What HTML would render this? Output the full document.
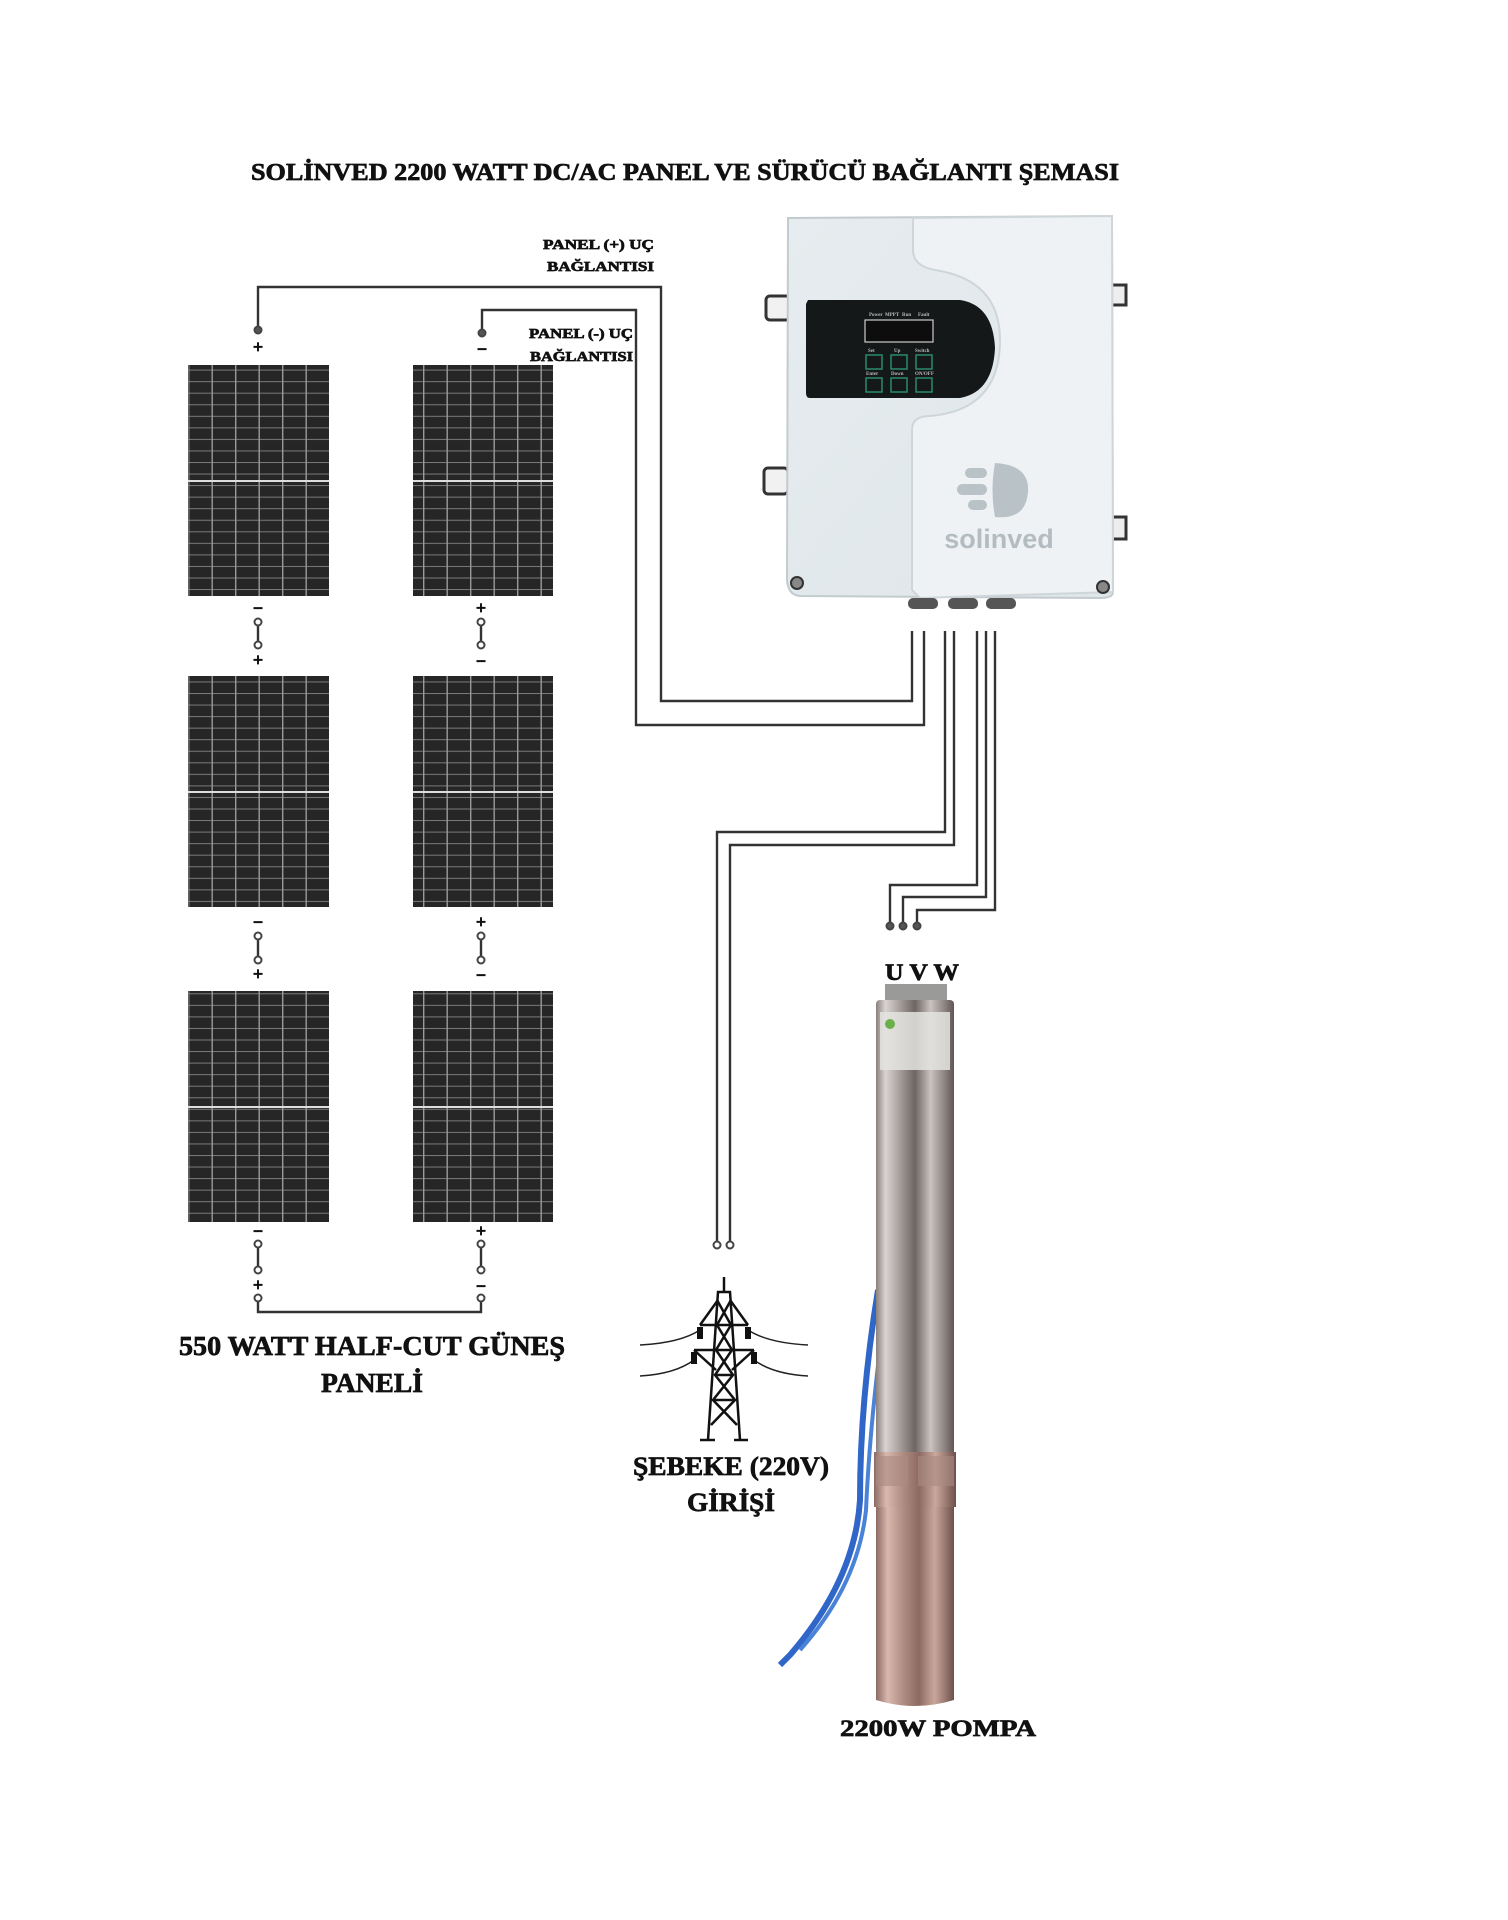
<!DOCTYPE html>
<html><head><meta charset="utf-8"><style>
html,body{margin:0;padding:0;background:#fff}
svg{display:block}
text{font-family:"Liberation Serif",serif;font-weight:bold;fill:#111;stroke:#111;stroke-width:0.7}
</style></head><body>
<svg width="1508" height="1920" viewBox="0 0 1508 1920" xmlns="http://www.w3.org/2000/svg">
<defs>
<pattern id="cells" x="0" y="0" width="23.5" height="11.55" patternUnits="userSpaceOnUse">
<rect width="23.5" height="11.55" fill="#262626"/>
<rect x="0" y="0" width="23.5" height="1" fill="#7a7a7a"/>
<rect x="0" y="0" width="1.4" height="11.55" fill="#9a9a9a"/>
</pattern>
<linearGradient id="steel" x1="0" x2="1" y1="0" y2="0">
<stop offset="0" stop-color="#8a7f7c"/><stop offset="0.12" stop-color="#d8d4d3"/>
<stop offset="0.3" stop-color="#a8a09e"/><stop offset="0.5" stop-color="#6f6563"/>
<stop offset="0.7" stop-color="#c9c2c0"/><stop offset="0.88" stop-color="#8d8381"/>
<stop offset="1" stop-color="#5f5654"/></linearGradient>
<linearGradient id="copper" x1="0" x2="1" y1="0" y2="0">
<stop offset="0" stop-color="#8a6a63"/><stop offset="0.15" stop-color="#d9b8ad"/>
<stop offset="0.35" stop-color="#b08c82"/><stop offset="0.55" stop-color="#8c6a62"/>
<stop offset="0.75" stop-color="#caa79c"/><stop offset="1" stop-color="#6e514b"/></linearGradient>
<linearGradient id="boxg" x1="0" x2="1" y1="0" y2="1">
<stop offset="0" stop-color="#e6ecef"/><stop offset="1" stop-color="#dfe6e9"/></linearGradient>
</defs>

<text x="685" y="180" font-size="24" text-anchor="middle" textLength="868" lengthAdjust="spacingAndGlyphs">SOLİNVED 2200 WATT DC/AC PANEL VE SÜRÜCÜ BAĞLANTI ŞEMASI</text>

<g>
<rect x="188" y="365" width="141" height="231" fill="url(#cells)"/>
<rect x="413" y="365" width="140" height="231" fill="url(#cells)"/>
<rect x="188" y="676" width="141" height="231" fill="url(#cells)"/>
<rect x="413" y="676" width="140" height="231" fill="url(#cells)"/>
<rect x="188" y="991" width="141" height="231" fill="url(#cells)"/>
<rect x="413" y="991" width="140" height="231" fill="url(#cells)"/>
<g fill="#ddd">
<rect x="188" y="480" width="141" height="2"/><rect x="413" y="480" width="140" height="2"/>
<rect x="188" y="791" width="141" height="2"/><rect x="413" y="791" width="140" height="2"/>
<rect x="188" y="1106" width="141" height="2"/><rect x="413" y="1106" width="140" height="2"/>
</g>
</g>

<g fill="none" stroke="#333" stroke-width="2.4">
<polyline points="258,330 258,287 661,287 661,701 912,701 912,631"/>
<polyline points="482,333 482,310 636,310 636,725 924,725 924,631"/>
<polyline points="945,631 945,832 717,832 717,1245"/>
<polyline points="954,631 954,845 730,845 730,1245"/>
<polyline points="977,631 977,885 890,885 890,926"/>
<polyline points="986,631 986,897 903,897 903,926"/>
<polyline points="995,631 995,910 917,910 917,926"/>
<line x1="258" y1="622" x2="258" y2="645"/><line x1="481" y1="622" x2="481" y2="645"/>
<line x1="258" y1="936" x2="258" y2="960"/><line x1="481" y1="936" x2="481" y2="960"/>
<line x1="258" y1="1244" x2="258" y2="1270"/><line x1="481" y1="1244" x2="481" y2="1270"/>
<polyline points="258,1298 258,1312 481,1312 481,1298"/>
</g>
<g fill="#fff" stroke="#444" stroke-width="2">
<circle cx="258" cy="330" r="3.5" fill="#555"/><circle cx="482" cy="333" r="3.5" fill="#555"/>
<circle cx="258" cy="622" r="3.5"/><circle cx="258" cy="645" r="3.5"/>
<circle cx="481" cy="622" r="3.5"/><circle cx="481" cy="645" r="3.5"/>
<circle cx="258" cy="936" r="3.5"/><circle cx="258" cy="960" r="3.5"/>
<circle cx="481" cy="936" r="3.5"/><circle cx="481" cy="960" r="3.5"/>
<circle cx="258" cy="1244" r="3.5"/><circle cx="258" cy="1270" r="3.5"/>
<circle cx="481" cy="1244" r="3.5"/><circle cx="481" cy="1270" r="3.5"/>
<circle cx="258" cy="1298" r="3.5"/><circle cx="481" cy="1298" r="3.5"/>
<circle cx="717" cy="1245" r="3.5"/><circle cx="730" cy="1245" r="3.5"/>
<circle cx="890" cy="926" r="3.5" fill="#555"/><circle cx="903" cy="926" r="3.5" fill="#555"/><circle cx="917" cy="926" r="3.5" fill="#555"/>
</g>
<g font-size="18" text-anchor="middle" style="font-family:'DejaVu Sans',sans-serif">
<text x="258" y="353">+</text><text x="482" y="355">−</text>
<text x="258" y="614">−</text><text x="258" y="666">+</text>
<text x="481" y="614">+</text><text x="481" y="667">−</text>
<text x="258" y="928">−</text><text x="258" y="980">+</text>
<text x="481" y="928">+</text><text x="481" y="981">−</text>
<text x="258" y="1237">−</text><text x="258" y="1291">+</text>
<text x="481" y="1237">+</text><text x="481" y="1292">−</text>
</g>

<g font-size="14" text-anchor="end">
<text x="654" y="249" textLength="111" lengthAdjust="spacingAndGlyphs">PANEL (+) UÇ</text>
<text x="654" y="271" textLength="107" lengthAdjust="spacingAndGlyphs">BAĞLANTISI</text>
<text x="633" y="338" textLength="104" lengthAdjust="spacingAndGlyphs">PANEL (-) UÇ</text>
<text x="633" y="361" textLength="103" lengthAdjust="spacingAndGlyphs">BAĞLANTISI</text>
</g>

<g>
<rect x="766" y="296" width="24" height="24" rx="4" fill="#f1f1f1" stroke="#333" stroke-width="3"/>
<rect x="764" y="468" width="24" height="26" rx="4" fill="#f1f1f1" stroke="#333" stroke-width="3"/>
<rect x="1110" y="285" width="16" height="20" fill="#eee" stroke="#333" stroke-width="3"/>
<rect x="1110" y="517" width="16" height="22" fill="#eee" stroke="#333" stroke-width="3"/>
<path d="M788,218 L1112,216 L1113,592 Q1113,598 1100,598 L800,596 Q788,595 787,580 Z" fill="url(#boxg)" stroke="#c3cbcf" stroke-width="2"/>
<path d="M913,218 L1112,216 L1113,592 L920,598 L912,590 L912,430 Q912,416 930,416 Q1000,410 1000,340 Q1000,280 935,270 Q913,266 913,250 Z" fill="#eef2f4" stroke="#cfd6d9" stroke-width="2"/>
<path d="M808,300 L960,300 Q993,305 995,348 Q993,392 960,398 L810,398 Q806,398 806,393 L806,304 Z" fill="#151818"/>
<rect x="865" y="320" width="68" height="22" fill="#0d0d0d" stroke="#ccc" stroke-width="1.2"/>
<g fill="none" stroke="#2a8a6a" stroke-width="1.5">
<rect x="866" y="355" width="16" height="14"/><rect x="891" y="355" width="16" height="14"/><rect x="916" y="355" width="16" height="14"/>
<rect x="866" y="378" width="16" height="14"/><rect x="891" y="378" width="16" height="14"/><rect x="916" y="378" width="16" height="14"/>
</g>
<g fill="#bbb" font-size="5" style="font-family:'Liberation Sans',sans-serif;stroke:none;fill:#bbb">
<text x="868" y="352" style="stroke:none;fill:#bbb">Set</text><text x="894" y="352" style="stroke:none;fill:#bbb">Up</text><text x="915" y="352" style="stroke:none;fill:#bbb">Switch</text>
<text x="866" y="375" style="stroke:none;fill:#bbb">Enter</text><text x="891" y="375" style="stroke:none;fill:#bbb">Down</text><text x="915" y="375" style="stroke:none;fill:#bbb">ON/OFF</text>
<text x="869" y="316" style="stroke:none;fill:#bbb">Power</text><text x="885" y="316" style="stroke:none;fill:#bbb">MPPT</text><text x="902" y="316" style="stroke:none;fill:#bbb">Run</text><text x="918" y="316" style="stroke:none;fill:#bbb">Fault</text>
</g>
<g fill="#b9c2c6">
<rect x="965" y="468" width="22" height="10" rx="5"/><rect x="957" y="484" width="30" height="11" rx="5.5"/><rect x="968" y="500" width="19" height="10" rx="5"/>
<path d="M995,463 Q1030,465 1028,492 Q1026,520 995,517 Q990,490 995,463 Z"/>
</g>
<text x="999" y="548" font-size="27" text-anchor="middle" style="font-family:'Liberation Sans',sans-serif;font-weight:bold;fill:#b3bcc0;stroke:none">solinved</text>
<circle cx="797" cy="583" r="6" fill="#888" stroke="#333" stroke-width="2"/>
<circle cx="1103" cy="587" r="6" fill="#888" stroke="#333" stroke-width="2"/>
<rect x="908" y="598" width="30" height="11" rx="5" fill="#555"/>
<rect x="948" y="598" width="30" height="11" rx="5" fill="#555"/>
<rect x="986" y="598" width="30" height="11" rx="5" fill="#555"/>
</g>

<text x="922" y="980" font-size="23" text-anchor="middle" textLength="74" lengthAdjust="spacingAndGlyphs">U V W</text>

<g fill="none" stroke="#111" stroke-width="2.5">
<line x1="724" y1="1277" x2="724" y2="1292"/>
<polyline points="708,1440 718,1292 730,1292 740,1440"/>
<polyline points="700,1440 715,1440"/><polyline points="734,1440 748,1440"/>
<line x1="700" y1="1325" x2="748" y2="1325"/><line x1="694" y1="1350" x2="754" y2="1350"/>
<polyline points="717,1300 731,1325 716,1350 733,1375 713,1400 737,1425"/>
<polyline points="731,1300 717,1325 732,1350 715,1375 735,1400 711,1425"/>
<line x1="715" y1="1375" x2="733" y2="1375"/><line x1="713" y1="1400" x2="735" y2="1400"/>
<line x1="700" y1="1325" x2="718" y2="1300"/><line x1="748" y1="1325" x2="730" y2="1300"/>
<line x1="694" y1="1350" x2="716" y2="1370"/><line x1="754" y1="1350" x2="732" y2="1370"/>
</g>
<g fill="none" stroke="#222" stroke-width="1.5">
<path d="M640,1345 Q680,1343 700,1330"/><path d="M808,1345 Q768,1343 748,1330"/>
<path d="M640,1376 Q675,1374 694,1360"/><path d="M808,1376 Q773,1374 754,1360"/>
</g>
<g fill="#111"><rect x="697" y="1327" width="6" height="12"/><rect x="745" y="1327" width="6" height="12"/>
<rect x="691" y="1352" width="6" height="12"/><rect x="751" y="1352" width="6" height="12"/></g>
<text x="731" y="1475" font-size="26" text-anchor="middle" textLength="196" lengthAdjust="spacingAndGlyphs">ŞEBEKE (220V)</text>
<text x="731" y="1511" font-size="26" text-anchor="middle" textLength="88" lengthAdjust="spacingAndGlyphs">GİRİŞİ</text>

<text x="372" y="1355" font-size="27" text-anchor="middle" textLength="386" lengthAdjust="spacingAndGlyphs">550 WATT HALF-CUT GÜNEŞ</text>
<text x="372" y="1392" font-size="27" text-anchor="middle" textLength="102" lengthAdjust="spacingAndGlyphs">PANELİ</text>

<g>
<path d="M878,1290 Q860,1400 860,1500 Q855,1580 790,1655 L780,1665" fill="none" stroke="#2f66c8" stroke-width="6"/>
<path d="M885,1310 Q870,1420 866,1510 Q858,1585 800,1650" fill="none" stroke="#4a82d8" stroke-width="4"/>
<rect x="885" y="984" width="62" height="18" fill="#9a9a98"/>
<rect x="876" y="1000" width="78" height="455" rx="4" fill="url(#steel)"/>
<rect x="880" y="1012" width="70" height="58" fill="#e4e4e0" opacity="0.85"/>
<circle cx="890" cy="1024" r="5" fill="#6bb04a"/>
<rect x="874" y="1452" width="82" height="55" fill="url(#copper)"/>
<rect x="876" y="1456" width="32" height="30" fill="#a88a82" opacity="0.6"/>
<rect x="918" y="1456" width="36" height="30" fill="#a88a82" opacity="0.6"/>
<path d="M876,1507 L954,1507 L954,1700 Q915,1712 876,1700 Z" fill="url(#copper)"/>
</g>
<text x="938" y="1736" font-size="23" text-anchor="middle" textLength="196" lengthAdjust="spacingAndGlyphs">2200W POMPA</text>
</svg>
</body></html>
